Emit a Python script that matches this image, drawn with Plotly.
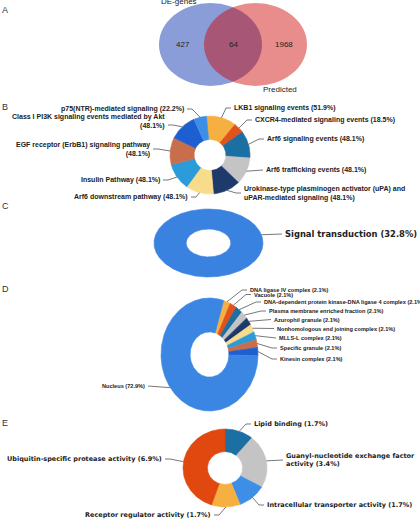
import numpy as np
import plotly.graph_objects as go

# ---------------- DATA ----------------
venn_sets = ["DE-genes", "Predicted"]
venn_counts = [427, 64, 1968]  # DE only, overlap, Predicted only

b_labels = ["LKB1 signaling events", "CXCR4-mediated signaling events", "Arf6 signaling events",
            "Arf6 trafficking events",
            "Urokinase-type plasminogen activator (uPA) and<br>uPAR-mediated signaling",
            "Arf6 downstream pathway", "Insulin Pathway",
            "EGF receptor (ErbB1) signaling pathway<br>",
            "Class I PI3K signaling events mediated by Akt<br>", "p75(NTR)-mediated signaling"]
b_values = [51.9, 18.5, 48.1, 48.1, 48.1, 48.1, 48.1, 48.1, 48.1, 22.2]

c_labels = ["Signal transduction"]
c_values = [32.8]

d_labels = ["DNA ligase IV complex", "Vacuole", "DNA-dependent protein kinase-DNA ligase 4 complex",
            "Plasma membrane enriched fraction", "Azurophil granule",
            "Nonhomologous end joining complex", "MLLS-L complex", "Specific granule",
            "Kinesin complex", "Nucleus"]
d_values = [2.1, 2.1, 2.1, 2.1, 2.1, 2.1, 2.1, 2.1, 2.1, 72.9]

e_labels = ["Lipid binding", "Guanyl-nucleotide exchange factor<br>activity",
            "Intracellular transporter activity", "Receptor regulator activity",
            "Ubiquitin-specific protease activity"]
e_values = [1.7, 3.4, 1.7, 1.7, 6.9]

# ---------------- STYLE / LAYOUT ----------------
palette = ["#f6b042", "#e2521c", "#1b6fa3", "#c4c4c4", "#1e3a6b",
           "#f9dc8b", "#2b9bd9", "#c86e4c", "#1d5fd0", "#3c8ee6"]
c_colors = ["#3a82e0"]
d_colors = palette[:9] + ["#3a86e2"]
e_colors = ["#1b6fa3", "#c4c4c4", "#3c8ee6", "#f6b042", "#e0480f"]

W, H = 420, 522
fig = go.Figure()


def donut(cx, cy, rx, ry, hole, start, values, colors, names):
    tot = float(sum(values))
    a = start
    mids = []
    for v, col, nm in zip(values, colors, names):
        span = 360.0 * v / tot
        th = np.radians(np.linspace(a, a + span, max(8, int(span * 1.5))))
        xo = cx + rx * np.sin(th)
        yo = cy - ry * np.cos(th)
        xi = cx + rx * hole * np.sin(th[::-1])
        yi = cy - ry * hole * np.cos(th[::-1])
        xs = np.concatenate([xo, xi, xo[:1]])
        ys = np.concatenate([yo, yi, yo[:1]])
        fig.add_trace(go.Scatter(x=xs, y=ys, mode="lines", fill="toself", fillcolor=col,
                                 line=dict(color=col, width=0.6), hoverinfo="text",
                                 text=nm.replace("<br>", " "), showlegend=False))
        mids.append(a + span / 2)
        a += span
    return mids


def edge_pt(cx, cy, rx, ry, ang):
    t = np.radians(ang)
    return cx + rx * np.sin(t), cy - ry * np.cos(t)


def labels(geom, mids, names, values, places, font):
    cx, cy, rx, ry = geom
    for i, (nm, v) in enumerate(zip(names, values)):
        p = places[i]
        lx, ly, side = p[0], p[1], p[2]
        attach_y = p[3] if len(p) > 3 else ly
        ang = p[4] if len(p) > 4 else mids[i]
        txt = f"{nm} ({v}%)" if not nm.endswith("<br>") else f"{nm}({v}%)"
        fig.add_annotation(x=lx, y=ly, xref="x", yref="y", text=f"<b>{txt}</b>",
                           showarrow=False, xanchor=side, yanchor="middle",
                           align="right" if side == "right" else "left", font=font)
        sx, sy = edge_pt(cx, cy, rx, ry, ang)
        sgn = -1 if side == "left" else 1
        fig.add_trace(go.Scatter(x=[sx, lx + sgn * 6, lx + sgn * 1],
                                 y=[sy, attach_y, attach_y], mode="lines",
                                 line=dict(color="#555555", width=0.8),
                                 hoverinfo="skip", showlegend=False))


# ---- Panel A : Venn ----
fig.add_shape(type="circle", xref="x", yref="y", x0=159, x1=262, y0=3, y1=86,
              fillcolor="rgba(44,77,184,0.55)", line=dict(width=0), layer="below")
fig.add_shape(type="circle", xref="x", yref="y", x0=204, x1=307, y0=3, y1=86,
              fillcolor="rgba(204,0,0,0.45)", line=dict(width=0), layer="below")
vfont = dict(family="Liberation Sans, Arial", size=8, color="#222222")
for xx, cnt in zip([183, 233, 284], venn_counts):
    fig.add_annotation(x=xx, y=44, xref="x", yref="y", text=str(cnt), showarrow=False, font=vfont)
fig.add_annotation(x=179, y=1.5, xref="x", yref="y", text=venn_sets[0], showarrow=False, font=vfont)
fig.add_annotation(x=280, y=89.5, xref="x", yref="y", text=venn_sets[1], showarrow=False, font=vfont)

# ---- Panel B ----
gB = (210, 155, 40, 39)
mB = donut(*gB, 0.4, -5, b_values, palette, b_labels)
fB = dict(family="Liberation Sans, Arial", size=7, color="#222222")
placesB = [(232, 108, "left"), (253, 120, "left"), (265, 139, "left"), (264, 170, "left"),
           (242, 193, "left"), (190, 197, "right"), (162, 180, "right"),
           (152, 149, "right"), (167, 121, "right", 125), (186, 109, "right")]
labels(gB, mB, b_labels, b_values, placesB, fB)

# ---- Panel C ----
gC = (208.5, 243, 54.5, 34)
mC = donut(*gC, 0.41, 0, c_values, c_colors, c_labels)
fC = dict(family="DejaVu Sans", size=8.4, color="#222222")
labels(gC, mC, c_labels, c_values, [(283, 234, "left", 234, 76)], fC)

# ---- Panel D ----
gD = (209.5, 354.5, 48.5, 56.5)
mD = donut(*gD, 0.4, 17, d_values, d_colors, d_labels)
fD = dict(family="Liberation Sans, Arial", size=5.6, color="#222222")
placesD = [(248, 290, "left"), (252, 294.5, "left"), (262, 302, "left"), (267, 311, "left"),
           (272, 319.5, "left"), (275, 328.5, "left"), (277, 338, "left"), (278, 348, "left"),
           (278, 359, "left"), (147, 386, "right")]
labels(gD, mD, d_labels, d_values, placesD, fD)

# ---- Panel E ----
gE = (225, 468, 42, 39)
mE = donut(*gE, 0.42, 0, e_values, e_colors, e_labels)
fE = dict(family="DejaVu Sans", size=6.5, color="#222222")
placesE = [(252, 424, "left"), (284, 460, "left"), (265, 505, "left"),
           (213, 515, "right"), (164, 459, "right")]
labels(gE, mE, e_labels, e_values, placesE, fE)

# panel letters
for letter, yy in zip("ABCDE", [10, 107, 206, 289, 423]):
    fig.add_annotation(x=5, y=yy, xref="x", yref="y", text=letter, showarrow=False,
                       font=dict(family="Liberation Sans, Arial", size=9, color="#333333"))

fig.update_layout(width=W, height=H, margin=dict(l=0, r=0, t=0, b=0),
                  paper_bgcolor="white", plot_bgcolor="white",
                  xaxis=dict(range=[0, W], visible=False, fixedrange=True),
                  yaxis=dict(range=[H, 0], visible=False, fixedrange=True),
                  showlegend=False)
fig.write_html("out.html")
